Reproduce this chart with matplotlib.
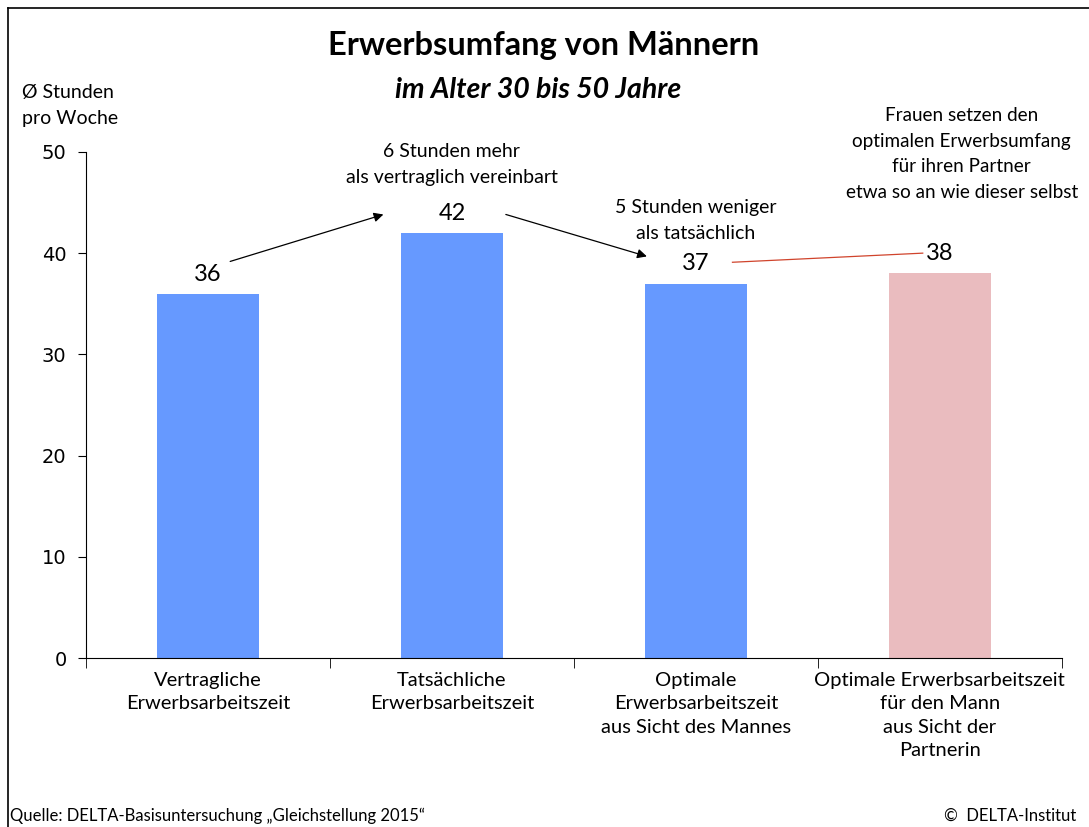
import matplotlib.pyplot as plt
from matplotlib.lines import Line2D

categories = [
    "Vertragliche\nErwerbsarbeitszeit",
    "Tatsächliche\nErwerbsarbeitszeit",
    "Optimale\nErwerbsarbeitszeit\naus Sicht des Mannes",
    "Optimale Erwerbsarbeitszeit\nfür den Mann\naus Sicht der\nPartnerin",
]
hours = [36, 42, 37, 38]
colors = ["#6699ff", "#6699ff", "#6699ff", "#eabcbf"]
y_ticks = [0, 10, 20, 30, 40, 50]

txt_font = ["Lato", "DejaVu Sans"]

fig = plt.figure(figsize=(10.89, 8.27), dpi=100)
ax = fig.add_axes([0.079, 0.2043, 0.896, 0.612])

x = list(range(len(hours)))
ax.bar(x, hours, width=0.42, color=colors)

ax.set_xlim(-0.5, 3.5)
ax.set_ylim(0, 50)
ax.set_yticks(y_ticks)
ax.tick_params(axis="y", direction="out", length=6, labelsize=14, pad=8)
ax.set_xticks(x)
ax.set_xticklabels(categories, fontsize=14.5, family=txt_font, linespacing=1.45)
ax.tick_params(axis="x", length=0, pad=10)
ax.set_xticks([i - 0.5 for i in range(len(hours) + 1)], minor=True)
ax.tick_params(axis="x", which="minor", direction="out", length=7)
for s in ["top", "right"]:
    ax.spines[s].set_visible(False)
ax.spines["left"].set_linewidth(0.8)
ax.spines["bottom"].set_linewidth(0.8)

# value labels
for i, v in enumerate(hours):
    ax.text(i, v + 0.9, str(v), ha="center", va="bottom", fontsize=17, family=txt_font)

# arrows between labels
ax.annotate("", xy=(1 - 0.27, hours[1] + 1.9), xytext=(0 + 0.08, hours[0] + 3.1),
            arrowprops=dict(arrowstyle="-|>", color="black", lw=0.9, mutation_scale=14))
ax.annotate("", xy=(2 - 0.19, hours[2] + 2.6), xytext=(1 + 0.21, hours[1] + 1.9),
            arrowprops=dict(arrowstyle="-|>", color="black", lw=0.9, mutation_scale=14))
ax.plot([2 + 0.15, 3 - 0.07], [hours[2] + 2.1, hours[3] + 2.0], color="#d0442c", lw=0.9,
        clip_on=False)

# comments
ax.text(1, 46.6, "6 Stunden mehr\nals vertraglich vereinbart", ha="center", va="bottom",
        fontsize=14, family=txt_font, linespacing=1.7)
ax.text(2, 41.1, "5 Stunden weniger\nals tatsächlich", ha="center", va="bottom",
        fontsize=14, family=txt_font, linespacing=1.65)
ax.text(3.09, 45.2, "Frauen setzen den\noptimalen Erwerbsumfang\nfür ihren Partner\netwa so an wie dieser selbst",
        ha="center", va="bottom", fontsize=13.6, family=txt_font, linespacing=1.6)

# titles
fig.text(0.499, 0.945, "Erwerbsumfang von Männern", ha="center", va="center",
         fontsize=23.5, fontweight="bold", family=txt_font)
fig.text(0.494, 0.891, "im Alter 30 bis 50 Jahre", ha="center", va="center",
         fontsize=20.5, fontweight="bold", style="italic", family=txt_font)
fig.text(0.02, 0.872, "Ø Stunden\npro Woche", ha="left", va="center",
         fontsize=14, family=txt_font, linespacing=1.65)

# footer
fig.text(0.009, 0.014, "Quelle: DELTA-Basisuntersuchung \u201eGleichstellung 2015\u201c", ha="left",
         va="center", fontsize=12, family=txt_font)
fig.text(0.988, 0.014, "©  DELTA-Institut", ha="right", va="center", fontsize=12, family=txt_font)

# frame lines
fig.add_artist(Line2D([0.0075, 0.0075], [0.0, 0.99], color="black", lw=1.2, transform=fig.transFigure))
fig.add_artist(Line2D([0.0075, 1.0], [0.99, 0.99], color="black", lw=1.2, transform=fig.transFigure))

fig.savefig("out.png", dpi=100)
